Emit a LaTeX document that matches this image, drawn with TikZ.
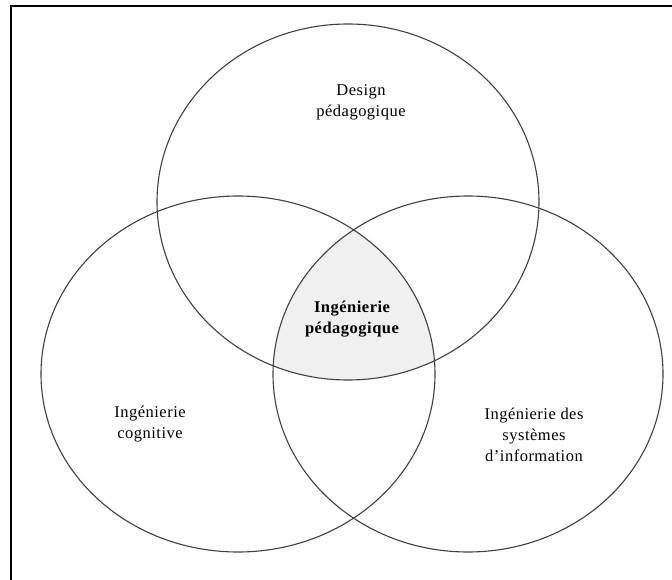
\documentclass[tikz,border=0pt]{standalone}
\usepackage{fontspec}
\setmainfont{Liberation Serif}[LetterSpace=3]
\begin{document}
\begin{tikzpicture}[x=1pt,y=-1pt,
  ring/.style={draw=black!75,line width=1.1pt},
  label/.style={align=center,font=\fontsize{16.5}{21}\selectfont},
  frameline/.style={draw=black,line width=1.6pt}]
\useasboundingbox (0,0) rectangle (672,580);
% centres of the three sets
\coordinate (ctop) at (348,202);
\coordinate (cleft) at (238,374);
\coordinate (cright) at (468,374);
% common part of the three sets
\begin{scope}
  \clip (ctop) ellipse [x radius=191,y radius=178];
  \clip (cleft) ellipse [x radius=197,y radius=178];
  \fill[black!6] (cright) ellipse [x radius=195,y radius=178];
\end{scope}
% outer frame
\coordinate (f1) at (11,6);
\coordinate (f2) at (672,6);
\coordinate (f3) at (11,580);
\draw[frameline] (f2) -- (f1) -- (f3);
% the three sets
\draw[ring] (ctop) ellipse [x radius=191,y radius=178];
\draw[ring] (cleft) ellipse [x radius=197,y radius=178];
\draw[ring] (cright) ellipse [x radius=195,y radius=178];
% labels
\node[label] (design) at (361,102) {Design\\pédagogique};
\node[label,font=\fontsize{16.5}{21}\selectfont\bfseries] (core) at (352,319) {Ingénierie\\pédagogique};
\node[label] (cogn) at (150,424) {Ingénierie\\cognitive};
\node[label] (sys) at (534,435) {Ingénierie des\\systèmes\\d’information};
\end{tikzpicture}
\end{document}
